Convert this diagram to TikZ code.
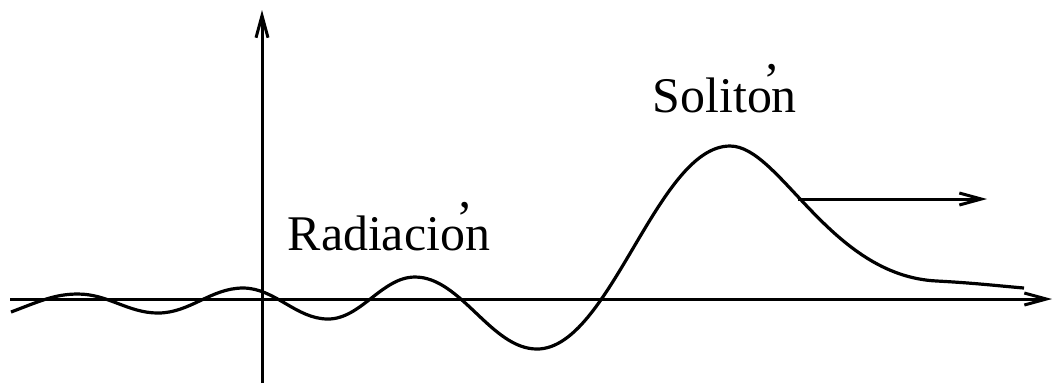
\documentclass[tikz,border=0pt]{standalone}
\usepackage{fontspec}
\setmainfont{Liberation Serif}
\usetikzlibrary{arrows.meta}

\begin{document}
\begin{tikzpicture}[x=0.1mm,y=-0.1mm,
  ax/.style={line width=0.3mm,-{Straight Barb[length=2.2mm,width=1.2mm]}},
  wave/.style={line width=0.32mm,line join=round},
  lbl/.style={anchor=base west,inner sep=0pt,font=\fontsize{14.2}{17}\selectfont}]
\useasboundingbox (0,0) rectangle (1054,385);
% axes
\coordinate (xl) at (10,299); \coordinate (xr) at (1052,299);
\coordinate (yb) at (262,383); \coordinate (yt) at (262,10);
\draw[ax] (xl)--(xr); \draw[ax] (yb)--(yt);
% radiation tail and soliton
\draw[wave] (11,312) .. controls (40,301) and (55,294) .. (78,294)
  .. controls +(30,0) and +(-30,0) .. (158,313)
  .. controls +(32,0) and +(-32,0) .. (243,288)
  .. controls +(32,0) and +(-32,0) .. (328,319)
  .. controls +(33,0) and +(-33,0) .. (415,277)
  .. controls +(46,0) and +(-46,0) .. (537,349)
  .. controls +(73,0) and +(-73,0) .. (730,146)
  .. controls (780,146) and (830,276) .. (937,281)
  .. controls (975,283) and (1000,286) .. (1024,288);
\coordinate (s) at (798,199); \coordinate (e) at (987,199);
\draw[ax] (s)--(e);
\node[lbl] (rad) at (287,250) {Radiacio\makebox[0pt]{\raisebox{0.3em}{’}}n};
\node[lbl] (sol) at (652,112) {Solito\makebox[0pt]{\raisebox{0.3em}{’}}n};
\end{tikzpicture}
\end{document}
